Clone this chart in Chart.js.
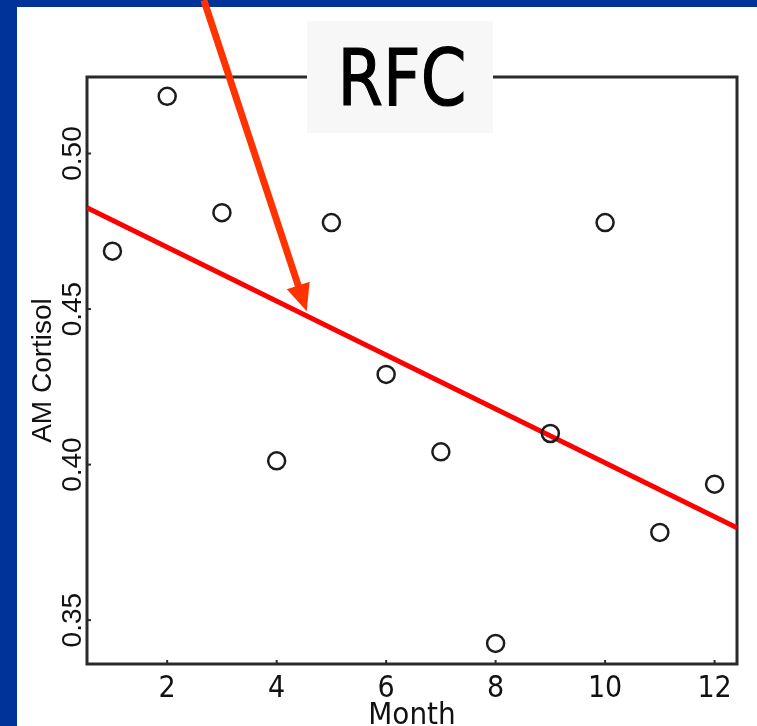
<!DOCTYPE html>
<html><head><meta charset="utf-8">
<style>html,body{margin:0;padding:0;background:#fff;overflow:hidden}canvas{display:block}</style>
<script src="https://cdn.jsdelivr.net/npm/chart.js@4/dist/chart.umd.min.js"></script>
</head><body>
<canvas id="c" width="757" height="726"></canvas>
<script>
// ---- data ----
const months = [1, 2, 3, 4, 5, 6, 7, 8, 9, 10, 11, 12];
const amCortisol = [0.4686, 0.5184, 0.4810, 0.4012, 0.4778, 0.4290, 0.4041, 0.3425, 0.4100, 0.4778, 0.3782, 0.3937];
const fitX = [0.535, 12.41];
const fitY = [0.4826, 0.3797];
const xTickValues = [2, 4, 6, 8, 10, 12];
const xTickLabels = ['2', '4', '6', '8', '10', '12'];
const yTickValues = [0.35, 0.40, 0.45, 0.50];
const yTickLabels = ['0.35', '0.40', '0.45', '0.50'];
const arrowX = [2.67, 4.549];
const arrowY = [0.5493, 0.4493];
const xLimits = [0.535, 12.41];
const yLimits = [0.3359, 0.5246];
const panelLabel = 'RFC';
const xTitle = 'Month';
const yTitle = 'AM Cortisol';

const FONT = '"Liberation Sans", Arial, sans-serif';
const NARROW = '"Liberation Sans Narrow", "Arial Narrow", "DejaVu Sans Condensed", "Liberation Sans", sans-serif';

const deco = {
  id: 'deco',
  beforeDraw(chart) {
    const ctx = chart.ctx;
    ctx.save();
    ctx.fillStyle = '#003399';
    ctx.fillRect(0, 0, chart.width, chart.height);
    ctx.fillStyle = '#ffffff';
    ctx.fillRect(17, 7, chart.width - 17, chart.height - 7);
    ctx.restore();
  },
  beforeDatasetsDraw(chart) {
    const ctx = chart.ctx, a = chart.chartArea, x = chart.scales.x, y = chart.scales.y;
    ctx.save();
    ctx.strokeStyle = '#2a2a2a';
    ctx.lineWidth = 3;
    ctx.strokeRect(a.left, a.top, a.right - a.left, a.bottom - a.top);
    ctx.lineWidth = 2;
    xTickValues.forEach(v => {
      const px = x.getPixelForValue(v);
      ctx.beginPath(); ctx.moveTo(px, a.bottom); ctx.lineTo(px, a.bottom - 4); ctx.stroke();
    });
    yTickValues.forEach(v => {
      const py = y.getPixelForValue(v);
      ctx.beginPath(); ctx.moveTo(a.left, py); ctx.lineTo(a.left + 4, py); ctx.stroke();
    });
    ctx.fillStyle = '#111';
    ctx.font = '28px ' + FONT;
    ctx.textAlign = 'center';
    ctx.textBaseline = 'middle';
    yTickValues.forEach((v, i) => {
      const py = y.getPixelForValue(v);
      ctx.save();
      ctx.translate(73, py);
      ctx.rotate(-Math.PI / 2);
      ctx.fillText(yTickLabels[i], 0, 0);
      ctx.restore();
    });
    ctx.restore();
  },
  afterDraw(chart) {
    const ctx = chart.ctx, x = chart.scales.x, y = chart.scales.y;
    ctx.save();
    // label box
    ctx.fillStyle = '#f7f7f7';
    ctx.fillRect(307, 21, 186, 112);
    ctx.fillStyle = '#000';
    ctx.strokeStyle = '#000';
    ctx.lineWidth = 1.2;
    ctx.font = '78px "DejaVu Sans", sans-serif';
    ctx.textAlign = 'center';
    ctx.textBaseline = 'alphabetic';
    ctx.translate(402, 105);
    ctx.scale(0.84, 1);
    ctx.fillText(panelLabel, 0, 0);
    ctx.strokeText(panelLabel, 0, 0);
    ctx.restore();
    // arrow
    ctx.save();
    const tx = x.getPixelForValue(arrowX[0]), ty = y.getPixelForValue(arrowY[0]);
    const hx = x.getPixelForValue(arrowX[1]), hy = y.getPixelForValue(arrowY[1]);
    const dx = hx - tx, dy = hy - ty, L = Math.hypot(dx, dy);
    const ux = dx / L, uy = dy / L;
    const headLen = 27, halfW = 12;
    const bx = hx - ux * headLen, by = hy - uy * headLen;
    ctx.strokeStyle = '#ff3300';
    ctx.fillStyle = '#ff3300';
    ctx.lineWidth = 7;
    ctx.beginPath(); ctx.moveTo(tx, ty); ctx.lineTo(bx + ux * 2, by + uy * 2); ctx.stroke();
    ctx.beginPath();
    ctx.moveTo(hx, hy);
    ctx.lineTo(bx - uy * halfW, by + ux * halfW);
    ctx.lineTo(bx + uy * halfW, by - ux * halfW);
    ctx.closePath(); ctx.fill();
    ctx.restore();
  }
};

new Chart(document.getElementById('c'), {
  type: 'scatter',
  data: {
    datasets: [
      {
        type: 'line',
        data: fitX.map((v, i) => ({ x: v, y: fitY[i] })),
        borderColor: '#ff0000', borderWidth: 5, pointRadius: 0, fill: false, order: 2
      },
      {
        data: months.map((m, i) => ({ x: m, y: amCortisol[i] })),
        pointStyle: 'circle', pointRadius: 8.5,
        borderColor: '#1c1c1c', backgroundColor: 'rgba(0,0,0,0)',
        borderWidth: 2.5, pointBorderWidth: 2.5, order: 1
      }
    ]
  },
  options: {
    responsive: false, animation: false, devicePixelRatio: 1, events: [],
    layout: { padding: { top: 77, right: 20, left: 0, bottom: 0 } },
    plugins: { legend: { display: false }, tooltip: { enabled: false } },
    scales: {
      x: {
        type: 'linear', position: 'bottom', min: xLimits[0], max: xLimits[1],
        afterFit(s) { s.height = 62; },
        afterBuildTicks(s) { s.ticks = xTickValues.map(v => ({ value: v })); },
        grid: { display: false }, border: { display: false },
        ticks: {
          callback: (v, i) => xTickLabels[i], color: '#111',
          font: { family: NARROW, size: 30, lineHeight: 1.2 }, padding: -1, maxRotation: 0, autoSkip: false
        },
        title: { display: true, text: xTitle, color: '#111', font: { family: NARROW, size: 31, lineHeight: 1 }, padding: { top: 0, bottom: -5 } }
      },
      y: {
        type: 'linear', position: 'left', min: yLimits[0], max: yLimits[1],
        afterFit(s) { s.width = 87; },
        grid: { display: false }, border: { display: false },
        ticks: { display: false },
        title: { display: true, text: yTitle, color: '#111', font: { family: FONT, size: 28, lineHeight: 1 }, padding: { top: 29, bottom: 0 } }
      }
    }
  },
  plugins: [deco]
});
</script>
</body></html>
